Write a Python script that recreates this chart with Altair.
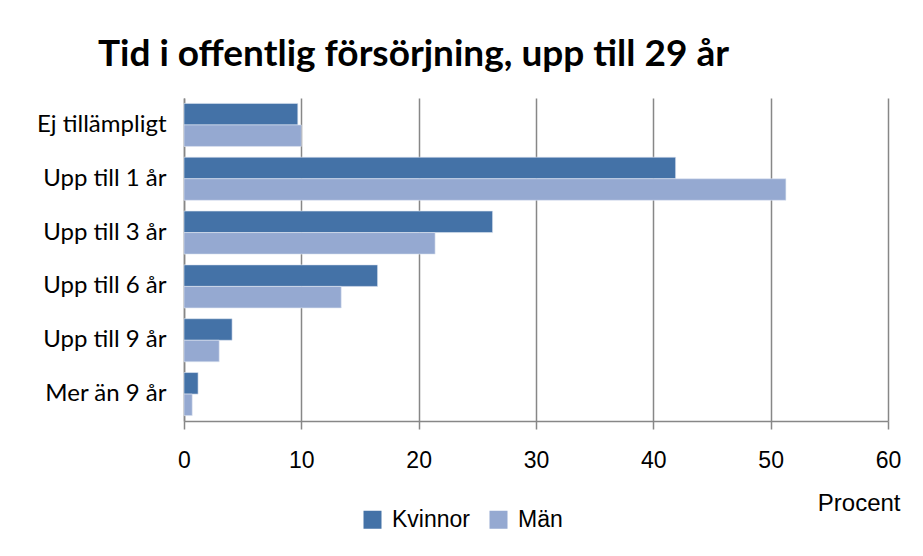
import altair as alt
import pandas as pd

categories = ["Ej tillämpligt", "Upp till 1 år", "Upp till 3 år", "Upp till 6 år", "Upp till 9 år", "Mer än 9  år"]
series = ["Kvinnor", "Män"]
kvinnor = [9.7, 41.9, 26.3, 16.5, 4.1, 1.2]
man = [10.0, 51.3, 21.4, 13.4, 3.0, 0.7]
x_ticks = [0, 10, 20, 30, 40, 50, 60]

rows = []
for c, k, m in zip(categories, kvinnor, man):
    rows.append({"kategori": c, "kon": "Kvinnor", "procent": k})
    rows.append({"kategori": c, "kon": "Män", "procent": m})
df = pd.DataFrame(rows)

grid_color = "#878787"

chart = alt.Chart(df).mark_bar(stroke="#dfe6f2", strokeWidth=0.6).encode(
    y=alt.Y("kategori:N", sort=categories,
            scale=alt.Scale(paddingInner=0.2, paddingOuter=0.1),
            axis=alt.Axis(title=None, ticks=False, labelFont="Lato", labelFontSize=24,
                          labelColor="#000000", labelPadding=18, domainColor=grid_color,
                          domainWidth=1.5, grid=False)),
    yOffset=alt.YOffset("kon:N", sort=series, scale=alt.Scale(paddingInner=0, paddingOuter=0)),
    x=alt.X("procent:Q", scale=alt.Scale(domain=[0, 60], nice=False),
            axis=alt.Axis(values=x_ticks, title="Procent", titleFont="Liberation Sans",
                          titleFontSize=24, titleFontWeight="normal", titleColor="#000000",
                          titleAlign="right", titleAnchor="end", titleX=716, titleY=89,
                          titleBaseline="alphabetic",
                          labelFont="Liberation Sans", labelFontSize=23, labelColor="#000000",
                          labelPadding=20, labelFlush=False, tickSize=8, tickColor=grid_color,
                          tickWidth=1.5, domainColor=grid_color, domainWidth=1.5,
                          grid=True, gridColor=grid_color, gridWidth=1.5)),
    color=alt.Color("kon:N", sort=series,
                    scale=alt.Scale(domain=series, range=["#4472A7", "#95A9D1"]),
                    legend=alt.Legend(title=None, orient="none", legendX=177, legendY=410,
                                      direction="horizontal", symbolType="square",
                                      symbolSize=324, symbolStrokeWidth=0,
                                      labelFont="Liberation Sans", labelFontSize=23,
                                      labelColor="#000000", labelOffset=8, columnPadding=17)),
).properties(
    width=704,
    height=323,
    padding={"left": 176, "top": 90, "right": 20, "bottom": 130},
    autosize=alt.AutoSizeParams(type="none"),
    background="white",
    title=alt.TitleParams("Tid i offentlig försörjning, upp till 29 år", anchor="start",
                          frame="group", dx=-86, offset=24, font="Lato", fontSize=37,
                          fontWeight="bold", color="#000000"),
).configure_view(strokeWidth=0, stroke="transparent")

chart.save("out.html", embed_options={"renderer": "svg", "actions": False})
